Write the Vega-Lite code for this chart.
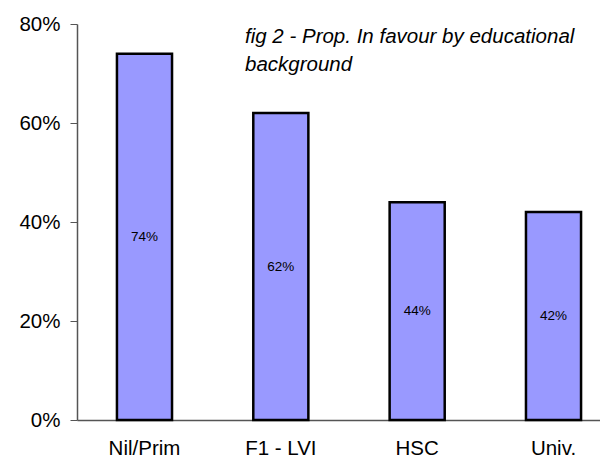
{
  "$schema": "https://vega.github.io/schema/vega-lite/v6.json",
  "autosize": "none",
  "width": 544,
  "height": 396,
  "padding": {"left": 77, "top": 24, "right": 0, "bottom": 39},
  "background": "white",
  "config": {"view": {"stroke": null}, "font": "Liberation Sans"},
  "title": {
    "text": ["fig 2 - Prop. In favour by educational", "background"],
    "anchor": "start",
    "frame": "group",
    "orient": "top",
    "baseline": "top",
    "offset": 0,
    "dx": 168,
    "dy": 61,
    "fontSize": 20.5,
    "fontStyle": "italic",
    "fontWeight": "normal",
    "font": "Liberation Sans",
    "lineHeight": 28,
    "color": "black"
  },
  "data": {
    "values": [
      {"edu": "Nil/Prim", "p": 0.74},
      {"edu": "F1 - LVI", "p": 0.62},
      {"edu": "HSC", "p": 0.44},
      {"edu": "Univ.", "p": 0.42}
    ]
  },
  "encoding": {
    "x": {
      "field": "edu",
      "type": "nominal",
      "sort": null,
      "scale": {"paddingInner": 0.596, "paddingOuter": 0.293},
      "axis": {
        "title": null,
        "labelAngle": 0,
        "labelFontSize": 20.5,
        "labelColor": "black",
        "labelPadding": 18,
        "ticks": false,
        "domainColor": "#555555",
        "domainWidth": 1.5
      }
    }
  },
  "layer": [
    {
      "mark": {"type": "bar", "fill": "#9999FF", "stroke": "black", "strokeWidth": 2.5},
      "encoding": {
        "y": {
          "field": "p",
          "type": "quantitative",
          "scale": {"domain": [0, 0.8], "nice": false},
          "axis": {
            "title": null,
            "format": ".0%",
            "values": [0, 0.2, 0.4, 0.6, 0.8],
            "grid": false,
            "labelFontSize": 20.5,
            "labelColor": "black",
            "labelPadding": 10,
            "tickSize": 7,
            "tickColor": "#555555",
            "domainColor": "#555555",
            "domainWidth": 1.5
          }
        }
      }
    },
    {
      "mark": {"type": "text", "fontSize": 13.5, "color": "black", "baseline": "middle"},
      "encoding": {
        "y": {
          "field": "p",
          "type": "quantitative",
          "scale": {"domain": [0, 1.6], "nice": false},
          "axis": null
        },
        "text": {"field": "p", "type": "quantitative", "format": ".0%"}
      }
    }
  ],
  "resolve": {"scale": {"y": "independent"}}
}
